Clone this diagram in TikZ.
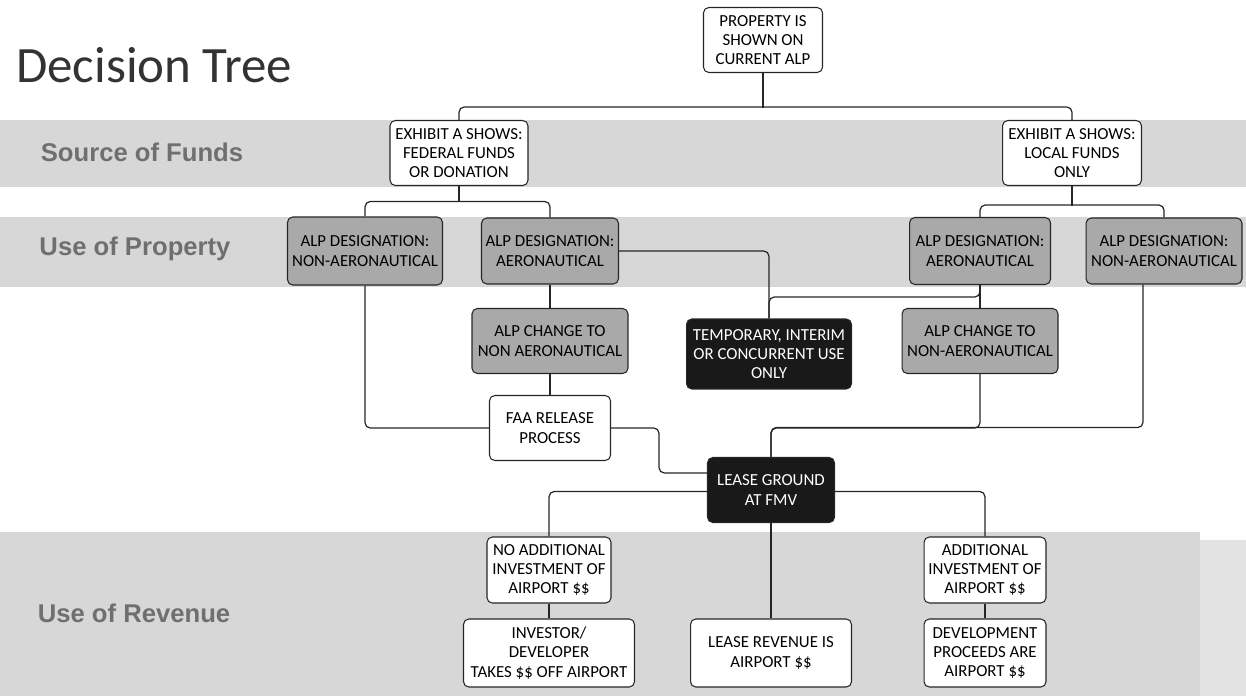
\documentclass[tikz,border=0pt]{standalone}
\usepackage{fontspec}
\setmainfont{Carlito}
\newfontfamily\bandfont{Liberation Sans}
\usetikzlibrary{positioning}
\pgfdeclarelayer{bands}
\pgfdeclarelayer{lines}
\pgfsetlayers{bands,lines,main}
\definecolor{bandgray}{HTML}{D7D7D8}
\definecolor{boxgray}{HTML}{A9A9A9}
\definecolor{labelgray}{HTML}{6F6F6F}

\begin{document}
\begin{tikzpicture}[
    x=0.02cm, y=-0.02cm,
    box/.style={rectangle, draw=black!85, line width=0.6pt, rounded corners=3pt, align=center, inner sep=1pt, minimum height=1.3cm, font=\fontsize{9.6}{11}\selectfont},
    whitebox/.style={box, fill=white},
    greybox/.style={box, fill=boxgray},
    darkbox/.style={box, fill=black!90, text=white},
    band/.style={fill=bandgray},
    bandlabel/.style={font=\bandfont\bfseries\fontsize{14.6}{17}\selectfont, text=labelgray},
    line/.style={draw=black!85, line width=0.7pt, rounded corners=3pt}
]
\useasboundingbox (0,0) rectangle (1246,696);

% Bands
\begin{pgfonlayer}{bands}
\fill[band] (0,120) rectangle (1246,187);
\fill[band] (0,217) rectangle (1246,287);
\fill[band] (0,532) rectangle (1200,696);
\fill[bandgray!70] (1200,540) rectangle (1246,696);
\end{pgfonlayer}

% Title and band labels
\node[anchor=base west, font=\fontsize{29}{33}\selectfont, text=black!80] (title) at (10,83) {Decision Tree};
\node[bandlabel] (funds) at (142,152) {Source of Funds};
\node[bandlabel] (property) at (135,249) {Use of Property};
\node[bandlabel] (revenue) at (134,613) {Use of Revenue};

% Top
\node[whitebox, minimum width=2.38cm] (current) at (763,40) {PROPERTY IS\\SHOWN ON\\CURRENT ALP};

% Source of funds
\node[whitebox, minimum width=2.76cm] (federal) at (459,153) {EXHIBIT A SHOWS:\\FEDERAL FUNDS\\OR DONATION};
\node[whitebox, minimum width=2.78cm] (local) at (1072,153) {EXHIBIT A SHOWS:\\LOCAL FUNDS\\ONLY};

% Use of property
\node[greybox, minimum width=3.1cm, minimum height=1.36cm] (fedNonAero) at (365,251) {ALP DESIGNATION:\\NON-AERONAUTICAL};
\node[greybox, minimum width=2.74cm, minimum height=1.32cm] (fedAero) at (550,251) {ALP DESIGNATION:\\AERONAUTICAL};
\node[greybox, minimum width=2.82cm, minimum height=1.34cm] (locAero) at (980,251) {ALP DESIGNATION:\\AERONAUTICAL};
\node[greybox, minimum width=3.12cm, minimum height=1.32cm] (locNonAero) at (1164,251) {ALP DESIGNATION:\\NON-AERONAUTICAL};

% Changes and release
\node[greybox, minimum width=3.12cm] (fedChange) at (550,341) {ALP CHANGE TO\\NON AERONAUTICAL};
\node[darkbox, minimum width=3.3cm, minimum height=1.4cm] (temporary) at (769,354) {TEMPORARY, INTERIM\\OR CONCURRENT USE\\ONLY};
\node[greybox, minimum width=3.12cm] (locChange) at (980,341) {ALP CHANGE TO\\NON-AERONAUTICAL};
\node[whitebox, minimum width=2.42cm] (release) at (550,428) {FAA RELEASE\\PROCESS};
\node[darkbox, minimum width=2.54cm] (lease) at (771,490) {LEASE GROUND\\AT FMV};

% Use of revenue
\node[whitebox, minimum width=2.48cm, minimum height=1.32cm] (noInvest) at (549,570) {NO ADDITIONAL\\INVESTMENT OF\\AIRPORT \$\$};
\node[whitebox, minimum width=3.42cm, minimum height=1.36cm] (investor) at (549,653) {INVESTOR/\\DEVELOPER\\TAKES \$\$ OFF AIRPORT};
\node[whitebox, minimum width=3.22cm, minimum height=1.36cm] (leaseRevenue) at (771,653) {LEASE REVENUE IS\\AIRPORT \$\$};
\node[whitebox, minimum width=2.44cm, minimum height=1.32cm] (addInvest) at (985,570) {ADDITIONAL\\INVESTMENT OF\\AIRPORT \$\$};
\node[whitebox, minimum width=2.44cm, minimum height=1.36cm] (development) at (985,653) {DEVELOPMENT\\PROCEEDS ARE\\AIRPORT \$\$};

% Connectors
\begin{pgfonlayer}{lines}
\draw[line] (current.south) -- ++(0,35);
\draw[line] (federal.north) -- ++(0,-13) -| (local.north);
\draw[line] (federal.south) -- ++(0,16);
\draw[line] (fedNonAero.north) -- ++(0,-15) -| (fedAero.north);
\draw[line] (local.south) -- ++(0,20);
\draw[line] (locAero.north) -- ++(0,-12) -| (locNonAero.north);
\draw[line] (fedAero.east) -| (temporary.north);
\draw[line] (locAero.south) -- ++(0,12) -| (temporary.north);
\draw[line] (fedAero.south) -- (fedChange.north);
\draw[line] (locAero.south) -- (locChange.north);
\draw[line] (fedNonAero.south) |- (release.west);
\draw[line] (fedChange.south) -- (release.north);
\draw[line] (release.east) -- ++(48,0) |- ([yshift=0.34cm]lease.west);
\draw[line] (locChange.south) -- ++(0,54) -| (lease.north);
\draw[line] ([xshift=-0.42cm]locNonAero.south) -- ++(0,143) -| (lease.north);
\draw[line] (noInvest.north) -- ++(0,-45) -| (addInvest.north);
\draw[line] (lease.south) -- (leaseRevenue.north);
\draw[line] (noInvest.south) -- (investor.north);
\draw[line] (addInvest.south) -- (development.north);
\end{pgfonlayer}

\end{tikzpicture}
\end{document}
